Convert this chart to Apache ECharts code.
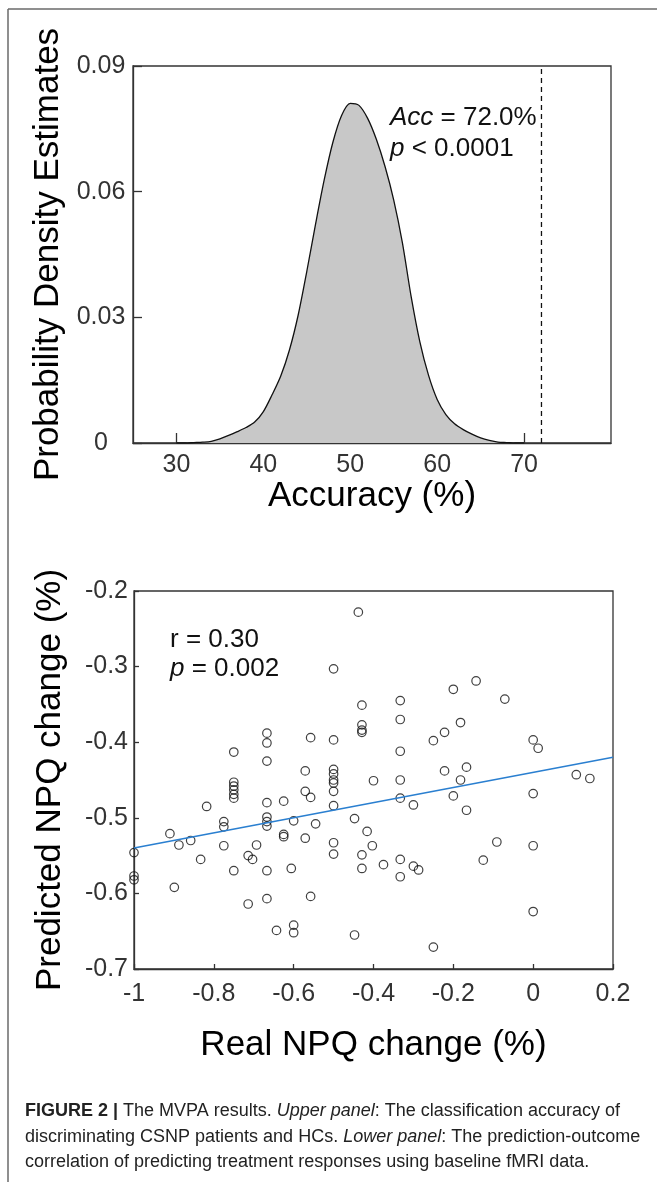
<!DOCTYPE html>
<html><head><meta charset="utf-8">
<script src="https://cdn.jsdelivr.net/npm/echarts@6/dist/echarts.min.js"></script>
<style>html,body{margin:0;padding:0;background:#fff}#c{width:657px;height:1182px}</style>
</head><body><div id="c"></div>
<script>
// ---------- Upper panel data ----------
const accuracyX = [30,31,32,33,34,35,36,37,38,39,40,41,42,43,44,45,46,47,48,49,50,51,52,53,54,55,56,57,58,59,60,61,62,63,64,65,66,67,68,69,70];
const densityY  = [0,0,0.0001,0.0002,0.0004,0.0010,0.0018,0.0027,0.0037,0.0050,0.0075,0.0115,0.0160,0.0222,0.0305,0.0410,0.0522,0.0628,0.0718,0.0782,0.0811,0.0806,0.0775,0.0725,0.0660,0.0580,0.0478,0.0350,0.0242,0.0162,0.0104,0.0068,0.0046,0.0032,0.0021,0.0012,0.0006,0.0002,0.0001,0,0];
const observedAccuracy = 72;
const accuracyTicks = [30,40,50,60,70];
const densityTicks = [0,0.03,0.06,0.09];

// ---------- Lower panel data ----------
const realNPQ = [
 -1.0,-1.0,-1.0,
 -0.91,-0.8875,-0.899,-0.858,-0.833,-0.818,
 -0.775,-0.775,-0.775,
 -0.75,-0.75,-0.75,-0.75,-0.75,-0.75,-0.75,
 -0.714,-0.714,-0.703,-0.693,
 -0.667,-0.667,-0.667,-0.667,-0.667,-0.667,-0.667,-0.667,-0.667,
 -0.643,-0.625,-0.625,-0.625,-0.600,-0.600,-0.600,-0.606,
 -0.571,-0.571,-0.571,-0.5575,-0.5575,-0.5575,-0.545,
 -0.5,-0.5,-0.5,-0.5,-0.5,-0.5,-0.5,-0.5,-0.5,-0.5,
 -0.4475,-0.4475,-0.438,
 -0.429,-0.429,-0.429,-0.429,-0.429,-0.429,
 -0.416,-0.40,-0.403,-0.375,
 -0.333,-0.333,-0.333,-0.333,-0.333,-0.333,-0.333,
 -0.30,-0.30,-0.287,-0.25,-0.25,-0.222,-0.222,-0.20,-0.20,-0.182,-0.182,-0.167,-0.167,
 -0.143,-0.125,-0.091,-0.071,
 0.0,0.0,0.0,0.0,0.0125,0.108,0.142
];
const predNPQ = [
 -0.546,-0.577,-0.582,
 -0.521,-0.536,-0.592,-0.530,-0.555,-0.485,
 -0.505,-0.512,-0.537,
 -0.413,-0.453,-0.458,-0.463,-0.469,-0.474,-0.570,
 -0.550,-0.614,-0.555,-0.536,
 -0.388,-0.401,-0.425,-0.480,-0.499,-0.505,-0.511,-0.570,-0.607,
 -0.649,-0.478,-0.522,-0.525,-0.504,-0.642,-0.652,-0.567,
 -0.438,-0.465,-0.527,-0.394,-0.473,-0.604,-0.508,
 -0.303,-0.397,-0.436,-0.442,-0.450,-0.454,-0.465,-0.484,-0.533,-0.548,
 -0.501,-0.655,-0.228,
 -0.351,-0.377,-0.384,-0.387,-0.549,-0.567,
 -0.518,-0.451,-0.537,-0.562,
 -0.345,-0.370,-0.412,-0.450,-0.474,-0.555,-0.578,
 -0.483,-0.564,-0.569,-0.398,-0.671,-0.387,-0.438,-0.330,-0.471,-0.374,-0.450,-0.433,-0.490,
 -0.319,-0.556,-0.532,-0.343,
 -0.397,-0.468,-0.537,-0.624,-0.408,-0.443,-0.448
];
const fitX = [-1, 0.2];
const fitY = [-0.540, -0.420];
const realTicks = [-1,-0.8,-0.6,-0.4,-0.2,0,0.2];
const predTicks = [-0.7,-0.6,-0.5,-0.4,-0.3,-0.2];

// ---------- Chart ----------
const FONT = "'Liberation Sans', Arial, Helvetica, sans-serif";
const chart = echarts.init(document.getElementById('c'), null, {renderer: 'canvas'});

const densityData = accuracyX.map((x, i) => [x, densityY[i]]);
const scatterData = realNPQ.map((x, i) => [x, predNPQ[i]]);
const fitData = fitX.map((x, i) => [x, fitY[i]]);

const tickLabel = {fontFamily: FONT, fontSize: 25, color: '#333'};
const axisName = {fontFamily: FONT, fontSize: 35, color: '#000'};
const axisLine = {show: true, onZero: false, lineStyle: {color: '#333', width: 1.3}};

const option = {
  animation: false,
  backgroundColor: '#fff',
  grid: [
    {left: 133, top: 66, width: 478, height: 377, show: true, borderColor: '#333', borderWidth: 1.3, backgroundColor: 'transparent'},
    {left: 134, top: 591, width: 479, height: 378, show: true, borderColor: '#333', borderWidth: 1.3, backgroundColor: 'transparent'}
  ],
  xAxis: [
    {
      type: 'value', gridIndex: 0, min: 25, max: 80,
      name: 'Accuracy (%)', nameLocation: 'middle', nameGap: 33, nameTextStyle: axisName,
      axisLine: axisLine,
      axisTick: {show: true, inside: true, length: 10, customValues: accuracyTicks, lineStyle: {color: '#333', width: 1.3}},
      axisLabel: Object.assign({margin: 10, customValues: accuracyTicks, formatter: v => String(v)}, tickLabel),
      splitLine: {show: false}
    },
    {
      type: 'value', gridIndex: 1, min: -1, max: 0.2, interval: 0.2,
      name: 'Real NPQ change (%)', nameLocation: 'middle', nameGap: 59, nameTextStyle: axisName,
      axisLine: axisLine,
      axisTick: {show: true, inside: true, length: 5, lineStyle: {color: '#333', width: 1.3}},
      axisLabel: Object.assign({margin: 13, formatter: v => String(Number(v.toFixed(1)))}, tickLabel),
      splitLine: {show: false}
    }
  ],
  yAxis: [
    {
      type: 'value', gridIndex: 0, min: 0, max: 0.09, interval: 0.03,
      name: 'Probability Density Estimates', nameLocation: 'middle', nameGap: 67, nameTextStyle: axisName,
      axisLine: axisLine,
      axisTick: {show: true, inside: true, length: 9, lineStyle: {color: '#333', width: 1.3}},
      axisLabel: Object.assign({margin: 32, align: 'center', formatter: v => v === 0 ? '0' : v.toFixed(2)}, tickLabel),
      splitLine: {show: false}
    },
    {
      type: 'value', gridIndex: 1, min: -0.7, max: -0.2, interval: 0.1,
      name: 'Predicted NPQ change (%)', nameLocation: 'middle', nameGap: 66, nameTextStyle: axisName,
      axisLine: axisLine,
      axisTick: {show: true, inside: true, length: 5, lineStyle: {color: '#333', width: 1.3}},
      axisLabel: Object.assign({margin: 6, formatter: v => String(Number(v.toFixed(1)))}, tickLabel),
      splitLine: {show: false}
    }
  ],
  series: [
    {
      type: 'line', xAxisIndex: 0, yAxisIndex: 0, data: densityData,
      smooth: 0.3, symbol: 'none',
      lineStyle: {color: '#111', width: 1.3},
      areaStyle: {color: '#c8c8c8', opacity: 1, origin: 'start'},
      z: 2
    },
    {
      type: 'line', xAxisIndex: 0, yAxisIndex: 0,
      data: [[observedAccuracy, 0], [observedAccuracy, 0.09]],
      symbol: 'none',
      lineStyle: {color: '#111', width: 1.3, type: [5, 4]},
      z: 3
    },
    {
      type: 'scatter', xAxisIndex: 1, yAxisIndex: 1, data: scatterData,
      symbol: 'circle', symbolSize: 8.5,
      itemStyle: {color: 'rgba(255,255,255,0)', borderColor: '#111', borderWidth: 1.2},
      z: 3
    },
    {
      type: 'line', xAxisIndex: 1, yAxisIndex: 1, data: fitData,
      symbol: 'none',
      lineStyle: {color: '#2a7fd0', width: 1.6},
      z: 4
    }
  ],
  graphic: [
    {type: 'line', shape: {x1: 8, y1: 9, x2: 657, y2: 9}, style: {stroke: '#6a6a6a', lineWidth: 1.5}},
    {type: 'line', shape: {x1: 8, y1: 9, x2: 8, y2: 1182}, style: {stroke: '#6a6a6a', lineWidth: 1.5}},
    {type: 'text', x: 390, y: 118, style: {
      text: '{i|Acc} = 72.0%', fontFamily: FONT, fontSize: 26, fill: '#111', verticalAlign: 'middle',
      rich: {i: {fontStyle: 'italic', fontFamily: FONT, fontSize: 26, fill: '#111'}}}},
    {type: 'text', x: 390, y: 149, style: {
      text: '{i|p} < 0.0001', fontFamily: FONT, fontSize: 26, fill: '#111', verticalAlign: 'middle',
      rich: {i: {fontStyle: 'italic', fontFamily: FONT, fontSize: 26, fill: '#111'}}}},
    {type: 'text', x: 170, y: 640, style: {
      text: 'r = 0.30', fontFamily: FONT, fontSize: 26, fill: '#111', verticalAlign: 'middle'}},
    {type: 'text', x: 170, y: 669, style: {
      text: '{i|p} = 0.002', fontFamily: FONT, fontSize: 26, fill: '#111', verticalAlign: 'middle',
      rich: {i: {fontStyle: 'italic', fontFamily: FONT, fontSize: 26, fill: '#111'}}}},
    {type: 'text', x: 25, y: 1111, style: {
      text: '{b|FIGURE 2 |} The MVPA results. {i|Upper panel}: The classification accuracy of',
      fontFamily: FONT, fontSize: 18, fill: '#222', verticalAlign: 'middle',
      rich: {b: {fontWeight: 'bold', fontFamily: FONT, fontSize: 18, fill: '#222'},
             i: {fontStyle: 'italic', fontFamily: FONT, fontSize: 18, fill: '#222'}}}},
    {type: 'text', x: 25, y: 1137, style: {
      text: 'discriminating CSNP patients and HCs. {i|Lower panel}: The prediction-outcome',
      fontFamily: FONT, fontSize: 18, fill: '#222', verticalAlign: 'middle',
      rich: {i: {fontStyle: 'italic', fontFamily: FONT, fontSize: 18, fill: '#222'}}}},
    {type: 'text', x: 25, y: 1162, style: {
      text: 'correlation of predicting treatment responses using baseline fMRI data.',
      fontFamily: FONT, fontSize: 18, fill: '#222', verticalAlign: 'middle'}}
  ]
};
chart.setOption(option);
</script>
</body></html>
